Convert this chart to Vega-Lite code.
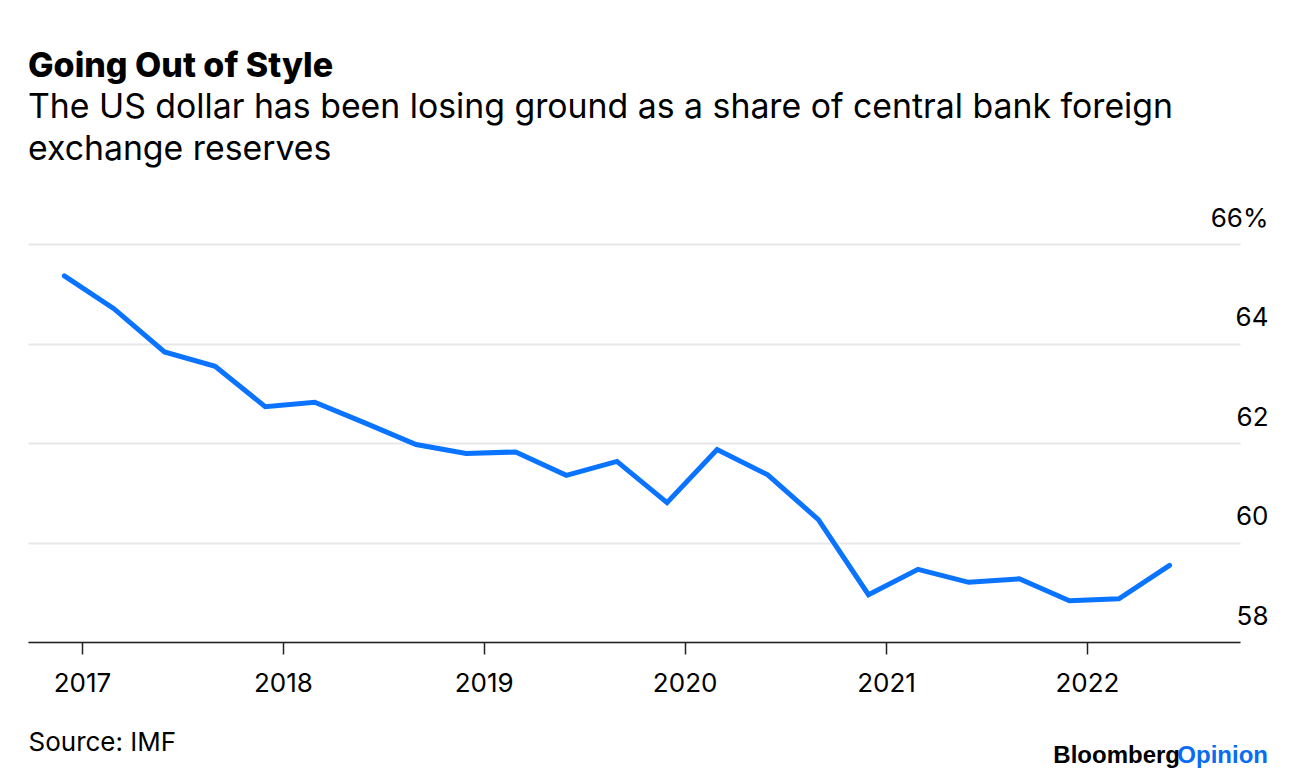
{
  "$schema": "https://vega.github.io/schema/vega-lite/v6.json",
  "width": 1212,
  "height": 398,
  "autosize": {"type": "none"},
  "padding": {"left": 28, "top": 244, "right": 28, "bottom": 138},
  "background": "white",
  "title": {
    "text": "Going Out of Style",
    "subtitle": ["The US dollar has been losing ground as a share of central bank foreign", "exchange reserves"],
    "anchor": "start",
    "frame": "group",
    "font": "Inter",
    "fontSize": 34,
    "fontWeight": 800,
    "color": "#000000",
    "subtitleFont": "Inter",
    "subtitleFontSize": 33.8,
    "subtitleColor": "#000000",
    "subtitleLineHeight": 42,
    "subtitlePadding": 7,
    "offset": 38
  },
  "config": {
    "view": {"stroke": null},
    "axis": {"labelFont": "Inter", "titleFont": "Inter", "labelColor": "#000000", "titleColor": "#000000"}
  },
  "layer": [
    {
      "data": {
        "values": [
          {"date": "2016-11-30", "share": 65.36},
          {"date": "2017-02-28", "share": 64.70},
          {"date": "2017-05-31", "share": 63.83},
          {"date": "2017-08-31", "share": 63.54},
          {"date": "2017-11-30", "share": 62.73},
          {"date": "2018-02-28", "share": 62.82},
          {"date": "2018-05-31", "share": 62.40},
          {"date": "2018-08-31", "share": 61.97},
          {"date": "2018-11-30", "share": 61.79},
          {"date": "2019-02-28", "share": 61.82},
          {"date": "2019-05-31", "share": 61.35},
          {"date": "2019-08-31", "share": 61.63},
          {"date": "2019-11-30", "share": 60.80},
          {"date": "2020-02-29", "share": 61.87},
          {"date": "2020-05-31", "share": 61.36},
          {"date": "2020-08-31", "share": 60.46},
          {"date": "2020-11-30", "share": 58.95},
          {"date": "2021-02-28", "share": 59.46},
          {"date": "2021-05-31", "share": 59.20},
          {"date": "2021-08-31", "share": 59.27},
          {"date": "2021-11-30", "share": 58.83},
          {"date": "2022-02-28", "share": 58.87},
          {"date": "2022-05-31", "share": 59.54}
        ]
      },
      "mark": {"type": "line", "color": "#0a73ff", "strokeWidth": 5, "strokeCap": "round", "strokeJoin": "miter"},
      "encoding": {
        "x": {
          "field": "date",
          "type": "temporal",
          "scale": {
            "type": "utc",
            "domain": [
              {"year": 2016, "month": 9, "date": 25, "utc": true},
              {"year": 2022, "month": 10, "date": 6, "utc": true}
            ]
          },
          "axis": {
            "values": [
              {"year": 2017, "month": 1, "date": 1, "utc": true},
              {"year": 2018, "month": 1, "date": 1, "utc": true},
              {"year": 2019, "month": 1, "date": 1, "utc": true},
              {"year": 2020, "month": 1, "date": 1, "utc": true},
              {"year": 2021, "month": 1, "date": 1, "utc": true},
              {"year": 2022, "month": 1, "date": 1, "utc": true}
            ],
            "format": "%Y",
            "formatType": "utc",
            "grid": false,
            "zindex": 1,
            "domainColor": "#222222",
            "domainWidth": 1.5,
            "tickColor": "#222222",
            "tickWidth": 1.5,
            "tickSize": 12,
            "labelFontSize": 26,
            "labelPadding": 16,
            "labelBaseline": "top",
            "title": "Source: IMF",
            "titleFontSize": 26,
            "titleFontWeight": "normal",
            "titleAlign": "left",
            "titleAnchor": "start",
            "titleBaseline": "alphabetic",
            "titleX": 0,
            "titleY": 108
          }
        },
        "y": {
          "field": "share",
          "type": "quantitative",
          "scale": {"domain": [58, 66], "nice": false, "zero": false},
          "axis": {
            "orient": "right",
            "values": [58, 60, 62, 64, 66],
            "labelExpr": "datum.value == 66 ? datum.label + '%' : datum.label",
            "domain": false,
            "ticks": false,
            "tickSize": 0,
            "grid": true,
            "gridColor": "#e8e8e8",
            "gridWidth": 2,
            "labelAlign": "right",
            "labelBaseline": "alphabetic",
            "labelPadding": 28,
            "labelOffset": -18,
            "labelFontSize": 26,
            "labelBound": false,
            "labelOverlap": false,
            "title": null
          }
        }
      }
    },
    {
      "data": {"values": [{"t": "Opinion"}]},
      "mark": {"type": "text", "align": "right", "baseline": "alphabetic", "font": "Liberation Sans", "fontWeight": "bold", "fontSize": 24, "color": "#0a6cf0", "dx": 28, "dy": 121},
      "encoding": {"x": {"value": "width"}, "y": {"value": "height"}, "text": {"field": "t"}}
    },
    {
      "data": {"values": [{"t": "Bloomberg"}]},
      "mark": {"type": "text", "align": "right", "baseline": "alphabetic", "font": "Liberation Sans", "fontWeight": "bold", "fontSize": 24, "color": "#000000", "dx": -60, "dy": 121},
      "encoding": {"x": {"value": "width"}, "y": {"value": "height"}, "text": {"field": "t"}}
    }
  ]
}
